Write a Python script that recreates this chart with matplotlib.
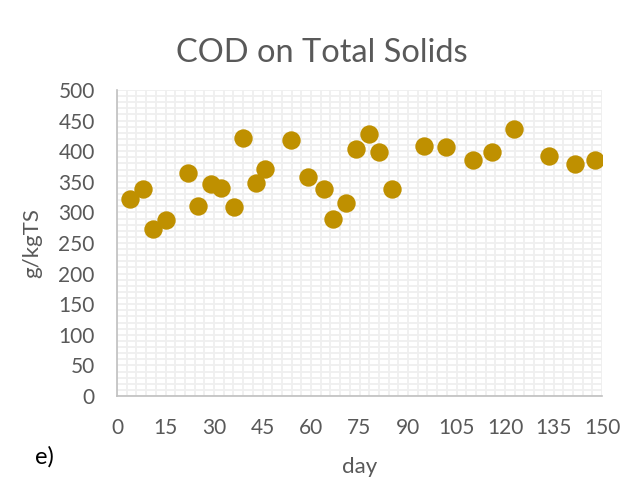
import matplotlib
matplotlib.use("Agg")
import matplotlib.pyplot as plt
from matplotlib.ticker import MultipleLocator

days = [4.0, 8.0, 11.1, 15.2, 22.0, 25.1, 29.1, 32.2, 36.2, 39.0, 43.0, 45.8,
        53.8, 59.1, 64.0, 66.8, 70.8, 73.9, 77.9, 81.0, 85.1, 95.0, 101.8,
        110.1, 116.0, 122.8, 133.6, 141.7, 147.8]
cod = [322, 338, 273, 287, 364, 310, 346, 340, 309, 421, 348, 371,
       418, 358, 338, 289, 315, 404, 428, 399, 338, 408, 407,
       386, 399, 436, 392, 379, 386]
x_ticks = [0, 15, 30, 45, 60, 75, 90, 105, 120, 135, 150]
y_ticks = [0, 50, 100, 150, 200, 250, 300, 350, 400, 450, 500]

plt.rcParams['font.family'] = ['Lato', 'DejaVu Sans']
txt = '#595959'

fig = plt.figure(figsize=(6.32, 4.84), dpi=100)
ax = fig.add_axes([117/632, 1-396/484, (602-117)/632, (396-90)/484])
ax.scatter(days, cod, s=175, color='#BF9000', zorder=3, linewidths=0)
ax.set_xlim(0, 150)
ax.set_ylim(0, 500)
ax.set_xticks(x_ticks)
ax.set_yticks(y_ticks)
ax.xaxis.set_minor_locator(MultipleLocator(3))
ax.yaxis.set_minor_locator(MultipleLocator(10))
ax.grid(which='both', color='#efefef', linewidth=1.3, zorder=0)
ax.set_axisbelow(True)
for s in ['top', 'right']:
    ax.spines[s].set_visible(False)
for s in ['left', 'bottom']:
    ax.spines[s].set_color('#c0c0c0')
    ax.spines[s].set_linewidth(1.2)
ax.tick_params(which='both', length=0, labelsize=15, colors=txt)
ax.tick_params(axis='x', pad=16)
ax.tick_params(axis='y', pad=16)
fig.text(322/632, 1-53/484, 'COD on Total Solids', fontsize=23.5, color=txt,
         ha='center', va='center')
fig.text(360/632, 1-467/484, 'day', fontsize=16, color=txt, ha='center', va='center')
fig.text(32/632, 1-243/484, 'g/kgTS', fontsize=16, color=txt, ha='center',
         va='center', rotation=90)
fig.text(44/632, 1-457/484, 'e)', fontsize=17, color='black', ha='center', va='center')
fig.savefig('out.png', dpi=100)
